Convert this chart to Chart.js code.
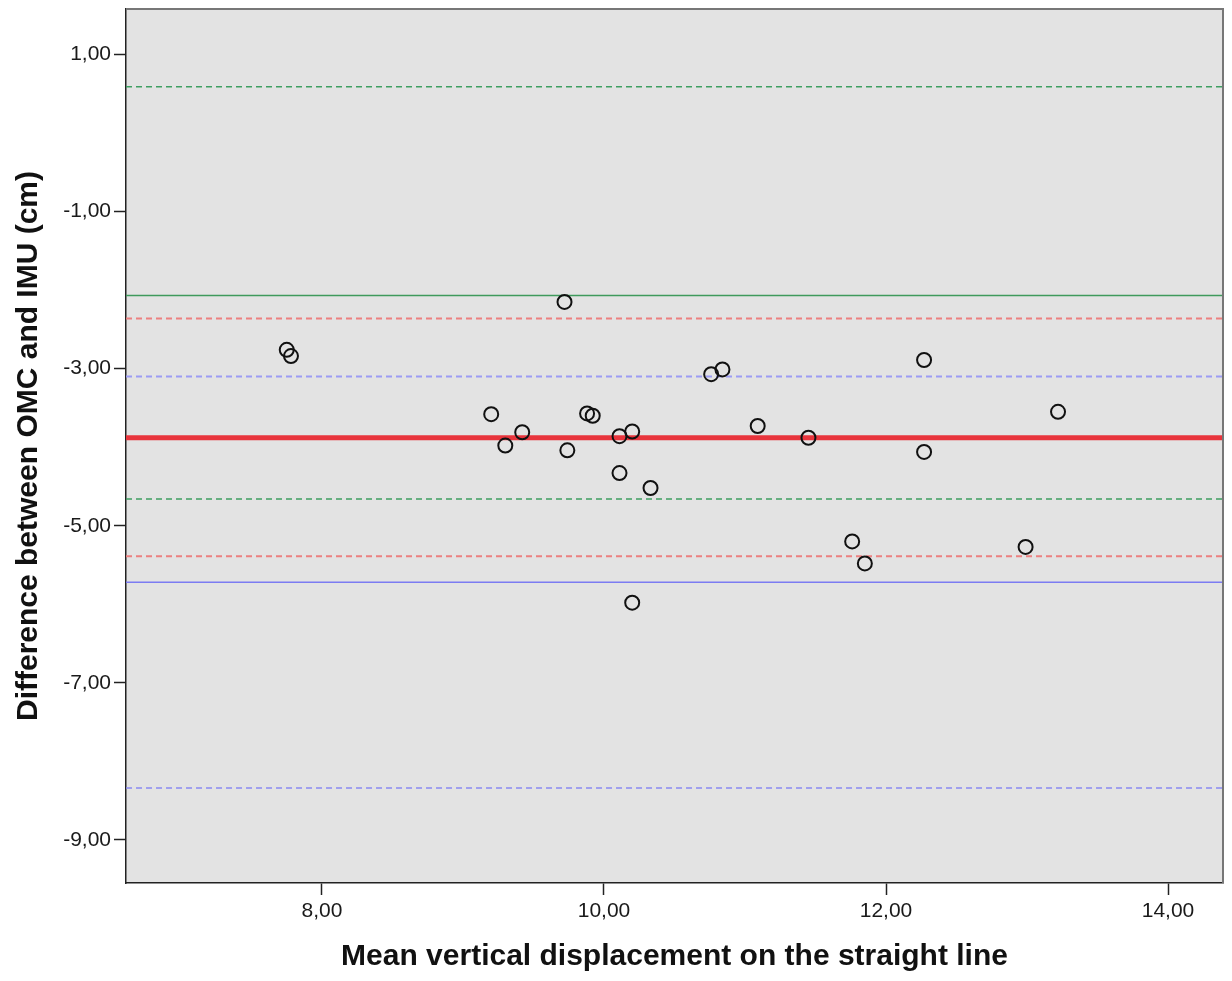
<!DOCTYPE html>
<html>
<head>
<meta charset="utf-8">
<script src="https://cdn.jsdelivr.net/npm/chart.js@4/dist/chart.umd.min.js"></script>
<style>
  body { margin: 0; background: #fff; }
</style>
</head>
<body>
<canvas id="blandAltman" width="1232" height="981"></canvas>
<script>
// mean of the two methods (x) and their difference (y), one per subject
var meanX = [7.75, 7.78, 9.20, 9.30, 9.42, 9.72, 9.74, 9.88, 9.92, 10.11, 10.11, 10.20,
             10.20, 10.33, 10.76, 10.84, 11.09, 11.45, 11.76, 11.85, 12.27, 12.27, 12.99, 13.22];
var diffY = [-2.76, -2.84, -3.58, -3.98, -3.81, -2.15, -4.04, -3.57, -3.60, -3.86, -4.33, -3.80,
             -5.98, -4.52, -3.07, -3.01, -3.73, -3.88, -5.20, -5.48, -2.89, -4.06, -5.27, -3.55];

// reference lines: mean bias, limits of agreement and their confidence bounds
var meanDiff = -3.88;
var meanDiffCI = [-2.36, -5.39];
var upperLimit = -2.07;
var upperLimitCI = [0.59, -4.66];
var lowerLimit = -5.72;
var lowerLimitCI = [-3.10, -8.34];

var xRange = [6.61, 14.39];
var yRange = [-9.55, 1.58];
var xTicks = [8, 10, 12, 14];
var yTicks = [1, -1, -3, -5, -7, -9];

function fmt(v) {
    return v.toFixed(2).replace('.', ',');
}

function hLine(value, color, width, dash) {
    return {
        data: [{x: xRange[0], y: value}, {x: xRange[1], y: value}],
        showLine: true,
        borderColor: color,
        borderWidth: width,
        borderDash: dash,
        pointRadius: 0,
        pointHoverRadius: 0
    };
}

var points = meanX.map(function (x, i) { return {x: x, y: diffY[i]}; });

var plotBackground = {
    id: 'plotBackground',
    beforeDraw: function (chart) {
        var ctx = chart.ctx, a = chart.chartArea;
        ctx.save();
        ctx.fillStyle = '#e3e3e3';
        ctx.fillRect(a.left, a.top, a.right - a.left, a.bottom - a.top);
        ctx.restore();
    },
    afterDraw: function (chart) {
        var ctx = chart.ctx, a = chart.chartArea;
        ctx.save();
        ctx.strokeStyle = '#777777';
        ctx.lineWidth = 2;
        ctx.beginPath();
        ctx.moveTo(a.left, a.top);
        ctx.lineTo(a.right, a.top);
        ctx.lineTo(a.right, a.bottom);
        ctx.stroke();
        ctx.restore();
    }
};

var ctx = document.getElementById('blandAltman').getContext('2d');
new Chart(ctx, {
    type: 'scatter',
    data: {
        datasets: [
            {
                data: points,
                pointStyle: 'circle',
                pointRadius: 7,
                pointBorderWidth: 2,
                pointBorderColor: '#111111',
                pointBackgroundColor: 'rgba(0,0,0,0)'
            },
            hLine(meanDiff, '#e8343c', 5, []),
            hLine(meanDiffCI[0], '#ec8080', 2, [6, 4]),
            hLine(meanDiffCI[1], '#ec8080', 2, [6, 4]),
            hLine(upperLimit, '#3f9a5c', 1.5, []),
            hLine(upperLimitCI[0], '#3f9f62', 1.5, [6, 4]),
            hLine(upperLimitCI[1], '#3f9f62', 1.5, [6, 4]),
            hLine(lowerLimit, '#7c7cf2', 1.5, []),
            hLine(lowerLimitCI[0], '#9c9cf4', 2, [6, 4]),
            hLine(lowerLimitCI[1], '#8a8af2', 1.5, [6, 4])
        ]
    },
    options: {
        responsive: false,
        animation: false,
        layout: { padding: { top: 6, right: 9, left: 0, bottom: 0 } },
        plugins: {
            legend: { display: false },
            tooltip: { enabled: false }
        },
        scales: {
            x: {
                type: 'linear',
                min: xRange[0],
                max: xRange[1],
                afterBuildTicks: function (scale) {
                    scale.ticks = xTicks.map(function (v) { return {value: v}; });
                },
                afterFit: function (scale) {
                    scale.height = 98;
                    scale.paddingLeft = 0;
                    scale.paddingRight = 0;
                },
                grid: {
                    drawOnChartArea: false,
                    drawTicks: true,
                    tickLength: 12,
                    tickColor: '#222222',
                    tickWidth: 1.5
                },
                border: { display: true, color: '#222222', width: 1.5 },
                ticks: {
                    padding: 4,
                    color: '#1a1a1a',
                    maxRotation: 0,
                    font: { family: '"Liberation Sans", Arial, sans-serif', size: 21 },
                    callback: function (v) { return fmt(v); }
                },
                title: {
                    display: true,
                    text: 'Mean vertical displacement on the straight line',
                    color: '#111111',
                    padding: { top: 0, bottom: 6 },
                    font: { family: '"Liberation Sans", Arial, sans-serif', size: 30, weight: 'bold' }
                }
            },
            y: {
                type: 'linear',
                min: yRange[0],
                max: yRange[1],
                afterBuildTicks: function (scale) {
                    scale.ticks = yTicks.map(function (v) { return {value: v}; });
                },
                afterFit: function (scale) {
                    scale.width = 126;
                    scale.paddingTop = 0;
                    scale.paddingBottom = 0;
                },
                grid: {
                    drawOnChartArea: false,
                    drawTicks: true,
                    tickLength: 12,
                    tickColor: '#222222',
                    tickWidth: 1.5
                },
                border: { display: true, color: '#222222', width: 1.5 },
                ticks: {
                    padding: 3,
                    color: '#1a1a1a',
                    font: { family: '"Liberation Sans", Arial, sans-serif', size: 21 },
                    callback: function (v) { return fmt(v); }
                },
                title: {
                    display: true,
                    text: 'Difference between OMC and IMU (cm)',
                    color: '#111111',
                    padding: { top: 11, bottom: 0 },
                    font: { family: '"Liberation Sans", Arial, sans-serif', size: 30, weight: 'bold' }
                }
            }
        }
    },
    plugins: [plotBackground]
});
</script>
</body>
</html>
